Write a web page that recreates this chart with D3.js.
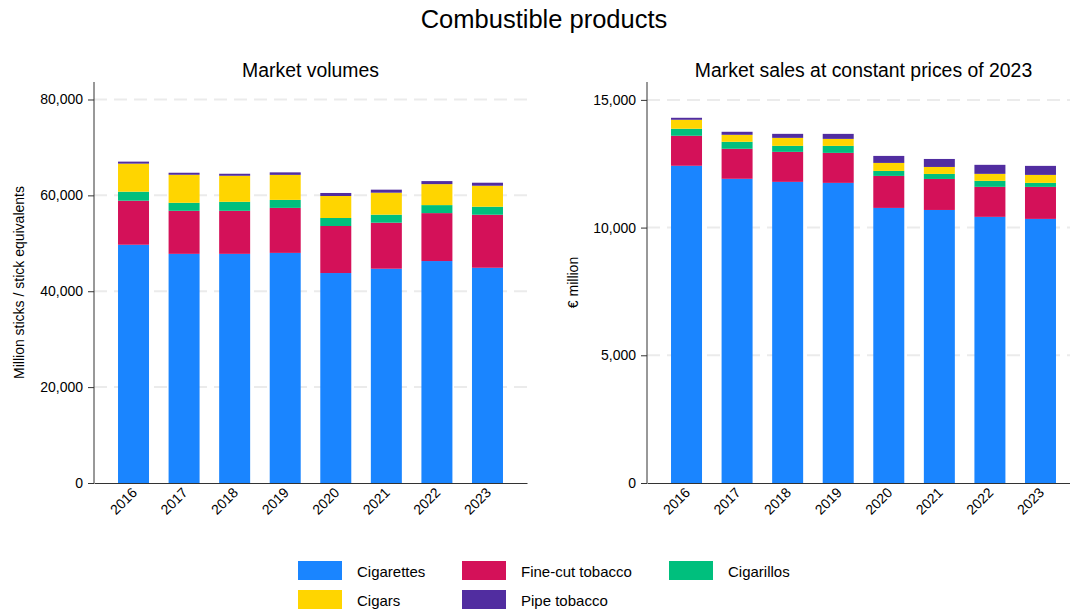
<!DOCTYPE html>
<html>
<head>
<meta charset="utf-8">
<script src="https://cdn.jsdelivr.net/npm/d3@7"></script>
<style>
  html, body { margin: 0; padding: 0; background: #fff; }
  text { font-family: "Liberation Sans", Arial, sans-serif; fill: #000; }
</style>
</head>
<body>
<svg id="chart" width="1070" height="612"></svg>
<script>
// ---------- data ----------
const years = ["2016","2017","2018","2019","2020","2021","2022","2023"];
const seriesNames = ["Cigarettes","Fine-cut tobacco","Cigarillos","Cigars","Pipe tobacco"];
const seriesColors = ["#1a85ff","#d41159","#00bf7d","#ffd500","#512da0"];

// Market volumes (million sticks / stick equivalents)
const volCigarettes = [49700, 47800, 47800, 48000, 43800, 44700, 46300, 44900];
const volFineCut    = [ 9190,  8980,  8980,  9390,  9810,  9600, 10000, 11060];
const volCigarillos = [ 1880,  1670,  1880,  1670,  1670,  1670,  1670,  1670];
const volCigars     = [ 5850,  5850,  5430,  5220,  4590,  4590,  4380,  4380];
const volPipe       = [  420,   420,   420,   520,   630,   630,   630,   630];

// Market sales at constant prices of 2023 (EUR million)
const salCigarettes = [12420, 11910, 11790, 11750, 10770, 10690, 10420, 10340];
const salFineCut    = [ 1175,  1175,  1175,  1175,  1253,  1214,  1175,  1253];
const salCigarillos = [  274,   274,   235,   274,   196,   196,   235,   157];
const salCigars     = [  352,   274,   313,   274,   313,   274,   274,   313];
const salPipe       = [   78,   118,   157,   196,   274,   313,   353,   353];

const volTicks = [0, 20000, 40000, 60000, 80000];
const salTicks = [0, 5000, 10000, 15000];

// ---------- drawing ----------
const svg = d3.select("#chart");
const fmt = d3.format(",");

svg.append("text")
  .attr("x", 544).attr("y", 28)
  .attr("text-anchor", "middle")
  .style("font-size", "25.5px")
  .text("Combustible products");

function panel(opts) {
  const { x0, x1, yTop, yBot, domainMax, ticks, series, title, ylabel, ylabelX } = opts;
  const g = svg.append("g");
  const x = d3.scaleBand().domain(years).range([x0, x1])
    .paddingInner(0.387).paddingOuter(0.475);
  const y = d3.scaleLinear().domain([0, domainMax]).range([yBot, yTop]);

  // gridlines
  g.append("g").selectAll("line").data(ticks.filter(t => t > 0)).join("line")
    .attr("x1", x0).attr("x2", x1)
    .attr("y1", d => y(d)).attr("y2", d => y(d))
    .attr("stroke", "#ebebeb").attr("stroke-width", 2)
    .attr("stroke-dasharray", "13,7");

  // stacked bars
  const rows = years.map((yr, i) => {
    const o = { year: yr };
    seriesNames.forEach((s, k) => { o[s] = series[k][i]; });
    return o;
  });
  const stack = d3.stack().keys(seriesNames)(rows);
  g.append("g").selectAll("g").data(stack).join("g")
    .attr("fill", (d, k) => seriesColors[k])
    .selectAll("rect").data(d => d).join("rect")
      .attr("x", d => x(d.data.year))
      .attr("width", x.bandwidth())
      .attr("y", d => y(d[1]))
      .attr("height", d => y(d[0]) - y(d[1]));

  // y axis
  const ya = g.append("g").attr("transform", `translate(${x0},0)`)
    .call(d3.axisLeft(y).tickValues(ticks).tickFormat(fmt).tickSize(6).tickPadding(5).tickSizeOuter(0));
  ya.select(".domain").attr("stroke", "#333").attr("d", `M0,${yTop}V${yBot}`);
  ya.selectAll(".tick line").attr("stroke", "#333");
  ya.selectAll(".tick text").style("font-size", "14px").style("font-family", "Liberation Sans, Arial, sans-serif").attr("fill", "#000");

  // x axis
  const xa = g.append("g").attr("transform", `translate(0,${yBot})`)
    .call(d3.axisBottom(x).tickSize(0).tickSizeOuter(0));
  xa.select(".domain").attr("stroke", "#333");
  xa.selectAll(".tick text")
    .style("font-size", "14px").style("font-family", "Liberation Sans, Arial, sans-serif").attr("fill", "#000")
    .attr("text-anchor", "end")
    .attr("transform", "translate(1,7) rotate(-45)")
    .attr("y", 0).attr("dy", "0.35em");

  // titles
  svg.append("text")
    .attr("x", (x0 + x1) / 2).attr("y", 77)
    .attr("text-anchor", "middle")
    .style("font-size", "19.4px")
    .text(title);
  svg.append("text")
    .attr("transform", `translate(${ylabelX},${(yTop + yBot) / 2}) rotate(-90)`)
    .attr("text-anchor", "middle")
    .style("font-size", "14px")
    .text(ylabel);
}

panel({
  x0: 94, x1: 527, yTop: 82, yBot: 483, domainMax: 83650,
  ticks: volTicks,
  series: [volCigarettes, volFineCut, volCigarillos, volCigars, volPipe],
  title: "Market volumes",
  ylabel: "Million sticks / stick equivalents",
  ylabelX: 24
});
panel({
  x0: 647, x1: 1080, yTop: 82, yBot: 483, domainMax: 15700,
  ticks: salTicks,
  series: [salCigarettes, salFineCut, salCigarillos, salCigars, salPipe],
  title: "Market sales at constant prices of 2023",
  ylabel: "€ million",
  ylabelX: 578
});

// legend
const legendPos = [
  { x: 298, y: 561 }, { x: 462, y: 561 }, { x: 669, y: 561 },
  { x: 298, y: 590 }, { x: 462, y: 590 }
];
const lg = svg.append("g").selectAll("g").data(seriesNames).join("g")
  .attr("transform", (d, i) => `translate(${legendPos[i].x},${legendPos[i].y})`);
lg.append("rect").attr("width", 44).attr("height", 19)
  .attr("fill", (d, i) => seriesColors[i]);
lg.append("text").attr("x", 59).attr("y", 15.5)
  .style("font-size", "15px")
  .text(d => d);
</script>
</body>
</html>
